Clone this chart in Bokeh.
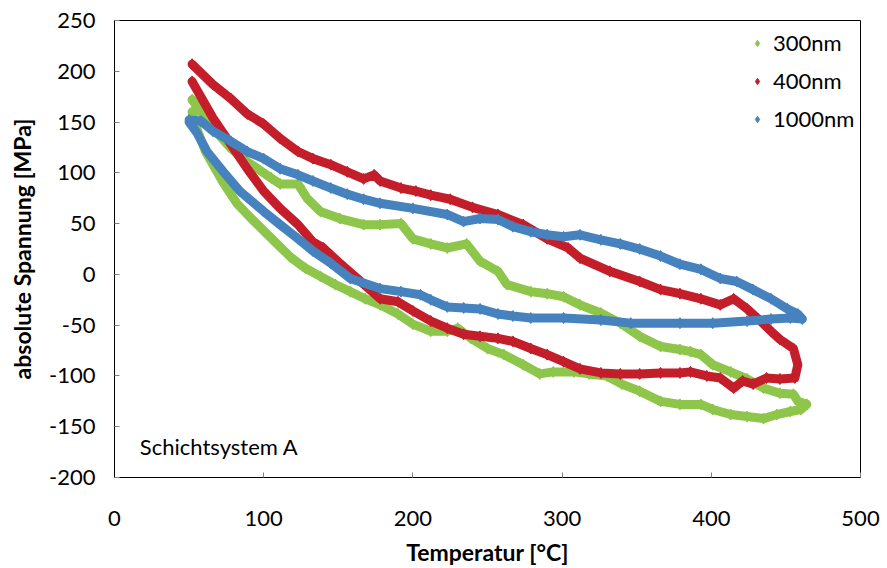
from bokeh.plotting import figure
from bokeh.models import Range1d, Label, Legend, LegendItem
from bokeh.embed import file_html
from bokeh.resources import INLINE

# ---- data ----
series_names = ["300nm", "400nm", "1000nm"]
series_colors = ["#8DC64A", "#C41E2A", "#4682BE"]

# 300 nm: heating branch then cooling branch
t_300 = [52, 56, 61, 66, 73, 82, 91, 100, 109, 118, 128, 138, 148, 158, 168, 178, 190, 200, 212, 223, 230,
         239, 250, 261, 274, 285, 294, 308, 318, 330, 340, 352, 366, 379, 393, 401, 413, 424, 435, 444, 453, 460, 464,
         458, 455, 446, 435, 424, 413, 401, 393, 386, 379, 366, 352, 339, 326, 312, 301, 290, 279, 263, 257,
         245, 236, 223, 212, 200, 192, 178, 167, 151, 138, 129, 123, 111, 105, 89, 78, 66, 58, 52]
s_300 = [160, 140, 121, 108, 90, 70, 56, 43, 30, 17, 6, -2, -10, -17, -24, -30, -39, -49, -56, -56, -53,
         -63, -73, -79, -89, -98, -96, -96, -98, -100, -108, -115, -125, -128, -128, -133, -138, -140, -142, -138, -135, -133, -128,
         -125, -118, -117, -112, -103, -96, -89, -79, -76, -74, -71, -61, -48, -38, -30, -22, -19, -17, -10, 3,
         13, 30, 26, 30, 35, 50, 49, 49, 55, 62, 75, 89, 89, 95, 111, 124, 144, 160, 172]

# 400 nm
t_400 = [52, 66, 78, 89, 100, 111, 123, 133, 140, 151, 165, 178, 190, 200, 212, 223, 234, 245, 257, 267, 279,
         290, 301, 312, 326, 339, 352, 366, 379, 386, 397, 406, 415, 421, 428, 437, 446, 456, 458, 455,
         446, 440, 433, 424, 415, 406, 393, 379, 366, 352, 332, 312, 304, 290, 274, 257, 240, 225, 212,
         202, 192, 178, 174, 167, 156, 145, 133, 123, 111, 100, 89, 78, 66, 52]
s_400 = [190, 154, 128, 104, 82, 65, 49, 32, 26, 11, -7, -24, -27, -36, -46, -53, -59, -61, -63, -66, -73,
         -79, -86, -93, -97, -98, -98, -97, -97, -96, -100, -102, -112, -105, -108, -102, -103, -102, -89, -73,
         -64, -56, -46, -34, -24, -30, -24, -19, -15, -7, 3, 16, 26, 35, 49, 59, 66, 74, 78,
         82, 85, 92, 98, 94, 101, 108, 114, 121, 134, 148, 158, 173, 187, 207]

# 1000 nm
t_1000 = [50, 55, 62, 73, 84, 100, 111, 123, 133, 145, 158, 178, 192, 205, 212, 223, 234, 245, 257, 267, 279,
          301, 326, 346, 379, 401, 424, 440, 453, 461,
          458, 451, 440, 428, 417, 406, 393, 379, 366, 352, 339, 326, 312, 301, 290, 279, 267, 257, 245,
          234, 223, 200, 178, 167, 156, 145, 133, 123, 111, 100, 89, 78, 66, 58, 50]
s_1000 = [150, 140, 121, 101, 82, 62, 49, 35, 23, 11, -4, -14, -17, -20, -25, -32, -33, -34, -39, -41, -43,
          -43, -45, -48, -48, -48, -46, -44, -43, -44,
          -39, -34, -24, -15, -7, -4, 5, 10, 18, 25, 30, 34, 39, 37, 39, 42, 47, 54, 55,
          52, 59, 65, 70, 74, 79, 85, 92, 98, 104, 114, 121, 131, 141, 151, 152]

series_t = [t_300, t_400, t_1000]
series_s = [s_300, s_400, s_1000]

x_ticks = [0, 100, 200, 300, 400, 500]
y_ticks = [-200, -150, -100, -50, 0, 50, 100, 150, 200, 250]
y_tick_labels = ["-200", "-150", "-100", "-50", "0", "50", "100", "150", "200", "250"]

FONT = "Lato"

p = figure(width=887, height=568, output_backend="svg", toolbar_location=None,
           x_range=Range1d(0, 500), y_range=Range1d(-200, 250),
           min_border_left=114, min_border_right=27, min_border_top=20, min_border_bottom=91)
p.background_fill_color = "white"
p.border_fill_color = "white"
p.outline_line_color = "black"
p.outline_line_width = 1
p.xgrid.visible = False
p.ygrid.visible = False

for ax in (p.xaxis[0], p.yaxis[0]):
    ax.axis_line_color = "black"
    ax.major_tick_in = 5
    ax.major_tick_out = 0
    ax.major_tick_line_color = "#808080"
    ax.minor_tick_line_color = None
    ax.major_label_text_font = FONT
    ax.major_label_text_font_size = "22px"
    ax.major_label_text_color = "black"
    ax.axis_label_text_font = FONT
    ax.axis_label_text_font_size = "23px"
    ax.axis_label_text_font_style = "bold"
    ax.axis_label_text_color = "black"

p.xaxis.ticker = x_ticks
p.yaxis.ticker = y_ticks
p.yaxis.major_label_overrides = {t: l for t, l in zip(y_ticks, y_tick_labels)}
p.xaxis.axis_label = "Temperatur [°C]"
p.yaxis.axis_label = "absolute Spannung [MPa]"
p.xaxis.major_label_standoff = 33
p.yaxis.major_label_standoff = 19
p.xaxis.axis_label_standoff = 9
p.yaxis.axis_label_standoff = 10

items = []
for name, col, ts, ss in zip(series_names, series_colors, series_t, series_s):
    p.line(ts, ss, line_color=col, line_width=9, line_join="round", line_cap="round")
    sc = p.scatter(ts, ss, marker="diamond", size=11, fill_color=col, line_color=col)
    items.append(LegendItem(label=name, renderers=[sc]))

legend = Legend(items=items, location=(635, 345))
legend.border_line_color = None
legend.background_fill_alpha = 0
legend.glyph_width = 16
legend.glyph_height = 16
legend.label_height = 20
legend.spacing = 11
legend.padding = 0
legend.margin = 0
legend.label_standoff = 8
legend.label_text_font = FONT
legend.label_text_font_size = "22px"
legend.label_text_color = "black"
p.add_layout(legend)

lbl = Label(x=17, y=-169, text="Schichtsystem A", text_font=FONT, text_font_size="22px",
            text_baseline="middle", text_color="black")
p.add_layout(lbl)

open("out.html", "w").write(file_html(p, INLINE))
